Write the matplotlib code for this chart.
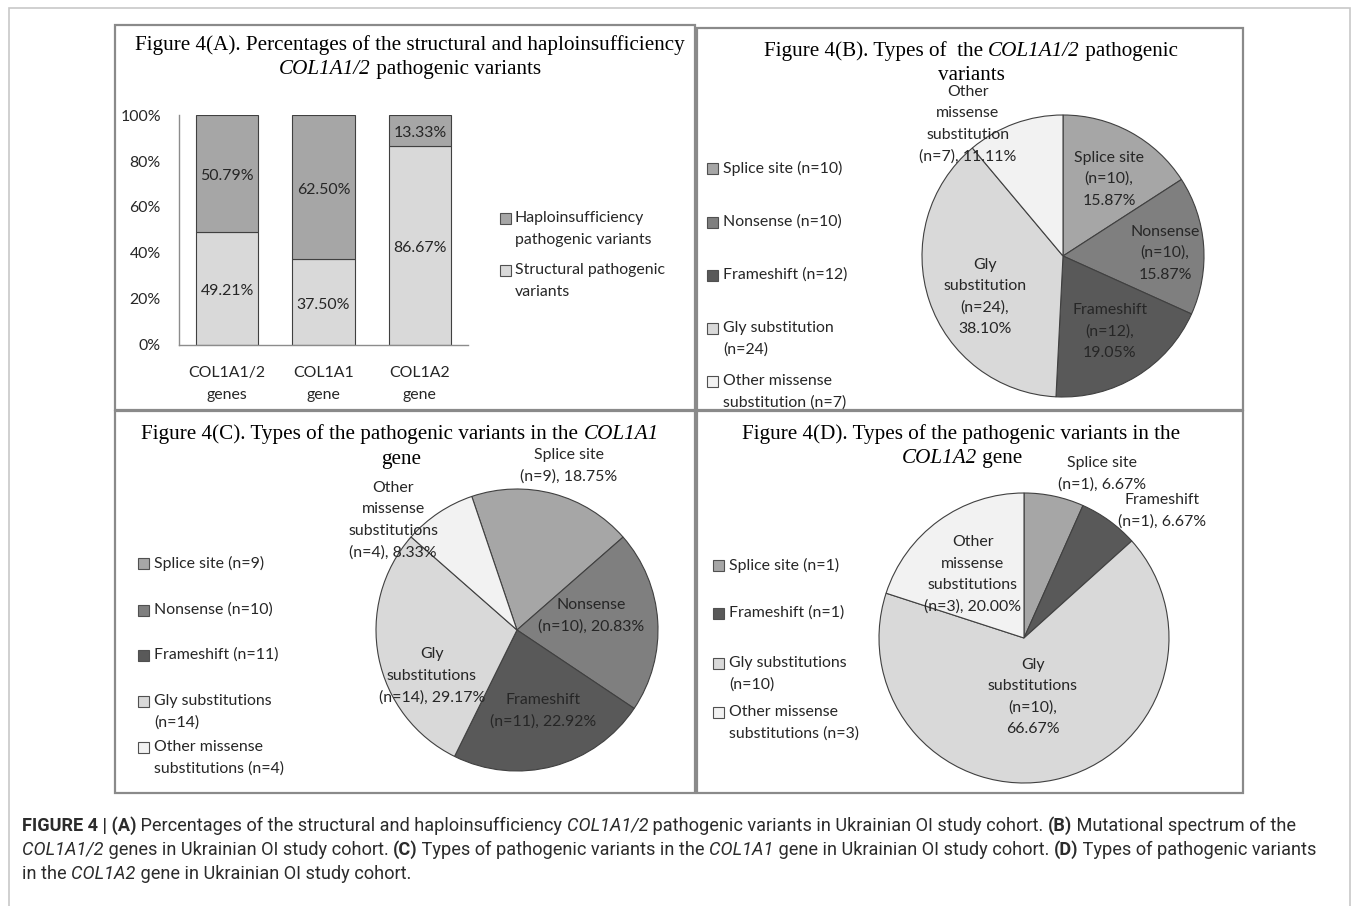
import numpy as np
import matplotlib
matplotlib.use("Agg")
import matplotlib.pyplot as plt
from matplotlib.patches import Rectangle
from matplotlib.transforms import ScaledTranslation

W, H = 1357, 906

# ---------------- data ----------------
genes = ["COL1A1/2\ngenes", "COL1A1\ngene", "COL1A2\ngene"]
structural = [49.21, 37.50, 86.67]
haplo = [50.79, 62.50, 13.33]
bar_legend = ["Haploinsufficiency\npathogenic variants", "Structural pathogenic\nvariants"]

b_counts = [10, 10, 12, 24, 7]
b_pct = [15.87, 15.87, 19.05, 38.10, 11.11]
b_legend = ["Splice site (n=10)", "Nonsense (n=10)", "Frameshift (n=12)",
            "Gly substitution\n(n=24)", "Other missense\nsubstitution (n=7)"]
b_fmt = ["Splice site\n(n={n}),\n{p:.2f}%", "Nonsense\n(n={n}),\n{p:.2f}%",
         "Frameshift\n(n={n}),\n{p:.2f}%", "Gly\nsubstitution\n(n={n}),\n{p:.2f}%",
         "Other\nmissense\nsubstitution\n(n={n}), {p:.2f}%"]

c_counts = [9, 10, 11, 14, 4]
c_pct = [18.75, 20.83, 22.92, 29.17, 8.33]
c_legend = ["Splice site (n=9)", "Nonsense (n=10)", "Frameshift (n=11)",
            "Gly substitutions\n(n=14)", "Other missense\nsubstitutions (n=4)"]
c_fmt = ["Splice site\n(n={n}), {p:.2f}%", "Nonsense\n(n={n}), {p:.2f}%",
         "Frameshift\n(n={n}), {p:.2f}%", "Gly\nsubstitutions\n(n={n}), {p:.2f}%",
         "Other\nmissense\nsubstitutions\n(n={n}), {p:.2f}%"]

d_counts = [1, 1, 10, 3]
d_pct = [6.67, 6.67, 66.67, 20.00]
d_legend = ["Splice site (n=1)", "Frameshift (n=1)", "Gly substitutions\n(n=10)",
            "Other missense\nsubstitutions (n=3)"]
d_fmt = ["Splice site\n(n={n}), {p:.2f}%", "Frameshift\n(n={n}), {p:.2f}%",
         "Gly\nsubstitutions\n(n={n}),\n{p:.2f}%",
         "Other\nmissense\nsubstitutions\n(n={n}), {p:.2f}%"]

# ---------------- style ----------------
SPLICE, NONSENSE, FRAME, GLY, OTHER = "#a6a6a6", "#7f7f7f", "#595959", "#d9d9d9", "#f2f2f2"
EDGE = "#404040"
TXT = "#262626"
SERIF = "Liberation Serif"
SANS = "Lato"
CAPF = "Roboto"
ST = {"n": {}, "i": {"style": "italic"}, "b": {"weight": "bold"}}

fig = plt.figure(figsize=(W / 100, H / 100), dpi=100)
fig.patch.set_facecolor("white")
renderer = fig.canvas.get_renderer()


def seg_width(s, **kw):
    t = fig.text(0, 0, "|" + s + "|", **kw)
    w = t.get_window_extent(renderer).width
    t.set_text("||")
    w -= t.get_window_extent(renderer).width
    t.remove()
    return w


def fit_size(segs, family, target):
    w = sum(seg_width(s, family=family, size=10, **ST[k]) for s, k in segs)
    return 10 * target / w


def draw_line(x, y, segs, family, size, color, ha="center"):
    ws = [seg_width(s, family=family, size=size, **ST[k]) for s, k in segs]
    x0 = x - sum(ws) / 2 if ha == "center" else x
    yb = y + 0.32 * size * 100 / 72
    for (s, k), w in zip(segs, ws):
        fig.text(x0 / W, 1 - yb / H, s, family=family, size=size, color=color,
                 ha="left", va="baseline", **ST[k])
        x0 += w


def ptext(x, y, s, **kw):
    fig.text(x / W, 1 - y / H, s, **kw)


def box(x0, y0, x1, y1, ec, lw):
    fig.add_artist(Rectangle((x0 / W, 1 - y1 / H), (x1 - x0) / W, (y1 - y0) / H,
                             transform=fig.transFigure, fill=False, ec=ec, lw=lw))


def legend(sq_x, tx_x, entries, colors, ys, fs, ls=22):
    for lab, col, y in zip(entries, colors, ys):
        fig.add_artist(Rectangle((sq_x / W, 1 - (y + 5.5) / H), 11 / W, 11 / H,
                                 transform=fig.transFigure, fc=col, ec="#505050", lw=0.8))
        for i, line in enumerate(lab.split("\n")):
            ptext(tx_x, y + i * ls, line, family=SANS, size=fs, color=TXT,
                  ha="left", va="center")


TS = fit_size([("Figure 4(A). Percentages of the structural and haploinsufficiency", "n")], SERIF, 550)
FS = fit_size([("Haploinsufficiency", "n")], SANS, 130)

# outer frame and panel frames
box(9, 8, 1350, 912, "#c8c8c8", 1.2)
box(115, 25, 695, 410, "#8a8a8a", 1.6)
box(697, 28, 1243, 410, "#8a8a8a", 1.6)
box(115, 411, 695, 793, "#8a8a8a", 1.6)
box(697, 411, 1243, 793, "#8a8a8a", 1.6)

# ---------------- panel A ----------------
draw_line(410, 43, [("Figure 4(A). Percentages of the structural and haploinsufficiency", "n")], SERIF, TS, "black")
draw_line(410, 67, [("COL1A1/2", "i"), (" pathogenic variants", "n")], SERIF, TS, "black")

axA = fig.add_axes([179 / W, 1 - 345 / H, (468 - 179) / W, (345 - 115) / H])
x = np.arange(len(genes))
axA.bar(x, structural, width=0.645, color=GLY, edgecolor=EDGE, lw=0.8)
axA.bar(x, haplo, bottom=structural, width=0.645, color=SPLICE, edgecolor=EDGE, lw=0.8)
axA.set_xlim(-0.5, 2.5)
axA.set_ylim(0, 100)
axA.set_yticks(range(0, 101, 20))
axA.set_yticklabels([f"{v}%" for v in range(0, 101, 20)], family=SANS, size=FS, color=TXT)
shift = ScaledTranslation(0, -3 / 100, fig.dpi_scale_trans)
for lab in axA.get_yticklabels():
    lab.set_transform(lab.get_transform() + shift)
axA.set_xticks([])
axA.tick_params(axis="y", length=0, pad=13)
for s in ["top", "right"]:
    axA.spines[s].set_visible(False)
for s in ["left", "bottom"]:
    axA.spines[s].set_color("#8c8c8c")
    axA.spines[s].set_linewidth(1.0)
axA.patch.set_alpha(0)
for i, (s_v, h_v) in enumerate(zip(structural, haplo)):
    axA.annotate(f"{s_v:.2f}%", (i, s_v / 2), xytext=(0, -3), textcoords="offset pixels",
                 ha="center", va="center", family=SANS, size=FS, color=TXT)
    axA.annotate(f"{h_v:.2f}%", (i, s_v + h_v / 2), xytext=(0, -3), textcoords="offset pixels",
                 ha="center", va="center", family=SANS, size=FS, color=TXT)
    for j, line in enumerate(genes[i].split("\n")):
        axA.annotate(line, (i, 0), xytext=(0, -28 - 22 * j), textcoords="offset pixels",
                     ha="center", va="center", family=SANS, size=FS, color=TXT,
                     annotation_clip=False)
legend(500, 515, bar_legend, [SPLICE, GLY], [218, 270], FS)


# ---------------- pies ----------------
def pie_panel(cx, cy, r, counts, pct, colors, start, fmts, pos):
    ax = fig.add_axes([(cx - r) / W, 1 - (cy + r) / H, 2 * r / W, 2 * r / H])
    ax.pie(counts, colors=colors, startangle=start, counterclock=False,
           wedgeprops=dict(edgecolor=EDGE, linewidth=0.8))
    ax.set_xlim(-1, 1)
    ax.set_ylim(-1, 1)
    ax.axis("off")
    for fmt, n, p, (lx, ly) in zip(fmts, counts, pct, pos):
        lines = fmt.format(n=n, p=p).split("\n")
        k = len(lines)
        for i, line in enumerate(lines):
            ax.annotate(line, (lx, ly), xytext=(0, ((k - 1) / 2 - i) * 21.5),
                        textcoords="offset pixels", ha="center", va="center",
                        family=SANS, size=FS, color=TXT, annotation_clip=False)
    return ax


# panel B
draw_line(971, 49, [("Figure 4(B). Types of  the ", "n"), ("COL1A1/2", "i"), (" pathogenic", "n")], SERIF, TS, "black")
draw_line(971, 73, [("variants", "n")], SERIF, TS, "black")
pie_panel(1063, 256, 141, b_counts, b_pct, [SPLICE, NONSENSE, FRAME, GLY, OTHER], 90, b_fmt,
          [(0.326, 0.546), (0.723, 0.021), (0.333, -0.539), (-0.553, -0.291), (-0.674, 0.936)])
legend(707, 723, b_legend, [SPLICE, NONSENSE, FRAME, GLY, OTHER], [168, 222, 275, 328, 381], FS)

# panel C
draw_line(400, 432, [("Figure 4(C). Types of the pathogenic variants in the ", "n"), ("COL1A1", "i")], SERIF, TS, "black")
draw_line(401, 457, [("gene", "n")], SERIF, TS, "black")
pie_panel(517, 630, 141, c_counts, c_pct, [SPLICE, NONSENSE, FRAME, GLY, OTHER], 108.7, c_fmt,
          [(0.369, 1.163), (0.525, 0.099), (0.184, -0.574), (-0.603, -0.326), (-0.879, 0.780)])
legend(138, 154, c_legend, [SPLICE, NONSENSE, FRAME, GLY, OTHER], [563, 610, 655, 701, 747], FS)

# panel D
draw_line(961, 432, [("Figure 4(D). Types of the pathogenic variants in the", "n")], SERIF, TS, "black")
draw_line(962, 456, [("COL1A2", "i"), (" gene", "n")], SERIF, TS, "black")
pie_panel(1024, 638, 145, d_counts, d_pct, [SPLICE, FRAME, GLY, OTHER], 90, d_fmt,
          [(0.538, 1.131), (0.952, 0.879), (0.062, -0.407), (-0.352, 0.438)])
legend(713, 729, d_legend, [SPLICE, FRAME, GLY, OTHER], [565, 613, 663, 712], FS)

# ---------------- caption ----------------
cap1 = [("FIGURE 4 | (A)", "b"), (" Percentages of the structural and haploinsufficiency ", "n"),
        ("COL1A1/2", "i"), (" pathogenic variants in Ukrainian OI study cohort. ", "n"),
        ("(B)", "b"), (" Mutational spectrum of the", "n")]
cap2 = [("COL1A1/2", "i"), (" genes in Ukrainian OI study cohort. ", "n"), ("(C)", "b"),
        (" Types of pathogenic variants in the ", "n"), ("COL1A1", "i"),
        (" gene in Ukrainian OI study cohort. ", "n"), ("(D)", "b"),
        (" Types of pathogenic variants", "n")]
cap3 = [("in the ", "n"), ("COL1A2", "i"), (" gene in Ukrainian OI study cohort.", "n")]
CS = fit_size(cap1, CAPF, 1271)
for segs, y in zip([cap1, cap2, cap3], [825, 849, 873]):
    draw_line(22, y, segs, CAPF, CS, "#2b2b2b", ha="left")

fig.savefig("out.png", dpi=100, facecolor="white")
